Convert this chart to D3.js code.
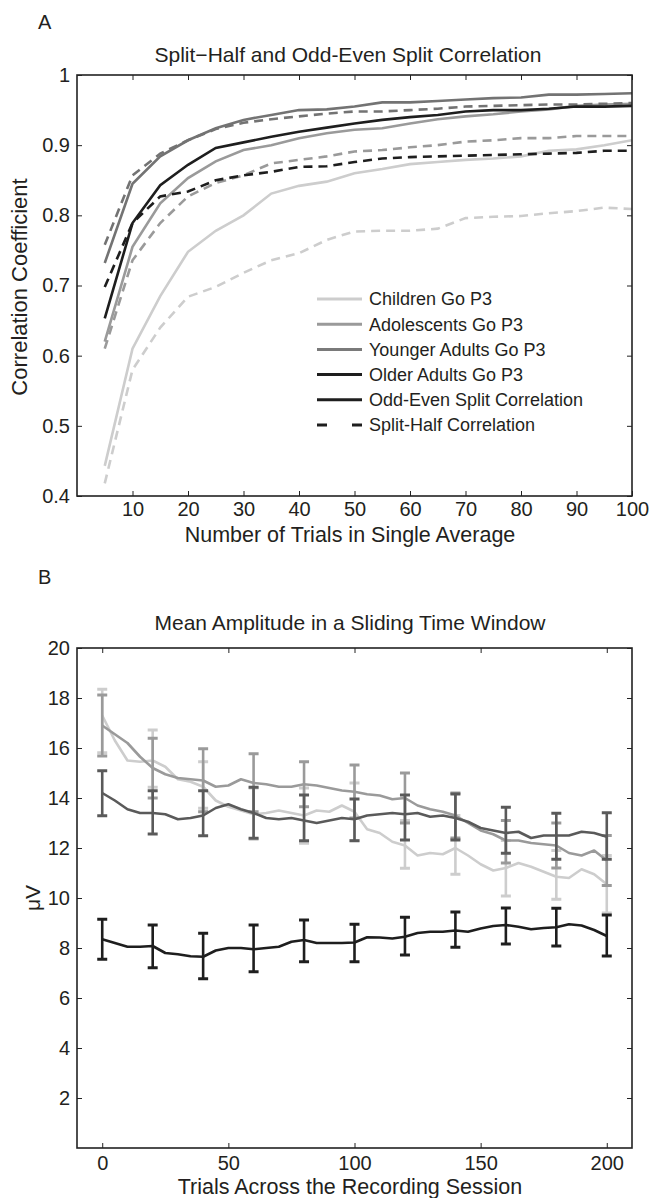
<!DOCTYPE html>
<html>

<head>
  <meta http-equiv="Content-Type" content="text/html;charset=utf-8" />
  <style type="text/css">
    body { margin: 0; background: #fff; }
    text { font-family: "Liberation Sans", Arial, sans-serif; fill: #231f20; }
  </style>
</head>

<body>
  <div id="svgContainer"></div>
  <script src="https://cdnjs.cloudflare.com/ajax/libs/d3/7.8.5/d3.min.js"></script>

  <script type="text/javascript">
    // ---- panel A data: correlation vs number of trials ----
    var trialsA = [5, 10, 15, 20, 25, 30, 35, 40, 45, 50, 55, 60, 65, 70, 75, 80, 85, 90, 95, 100];

    var childrenOddEven = [0.443, 0.61, 0.685, 0.748, 0.778, 0.80, 0.831, 0.842, 0.848, 0.860, 0.866, 0.873, 0.876, 0.879, 0.881, 0.884, 0.892, 0.894, 0.900, 0.907];
    var childrenSplitHalf = [0.418, 0.58, 0.64, 0.684, 0.698, 0.718, 0.736, 0.746, 0.765, 0.777, 0.778, 0.778, 0.781, 0.796, 0.798, 0.799, 0.803, 0.806, 0.811, 0.809];
    var adolescentsOddEven = [0.62, 0.755, 0.817, 0.853, 0.877, 0.893, 0.900, 0.910, 0.917, 0.922, 0.924, 0.931, 0.937, 0.941, 0.944, 0.948, 0.951, 0.956, 0.958, 0.959];
    var adolescentsSplitHalf = [0.61, 0.736, 0.789, 0.827, 0.846, 0.857, 0.874, 0.879, 0.884, 0.891, 0.893, 0.897, 0.900, 0.905, 0.907, 0.910, 0.910, 0.913, 0.913, 0.913];
    var youngerOddEven = [0.732, 0.845, 0.884, 0.907, 0.924, 0.936, 0.943, 0.950, 0.951, 0.955, 0.961, 0.961, 0.963, 0.965, 0.967, 0.968, 0.972, 0.972, 0.973, 0.974];
    var youngerSplitHalf = [0.758, 0.857, 0.888, 0.907, 0.923, 0.932, 0.937, 0.941, 0.945, 0.948, 0.948, 0.950, 0.952, 0.955, 0.956, 0.957, 0.958, 0.958, 0.959, 0.960];
    var olderOddEven = [0.653, 0.789, 0.843, 0.872, 0.896, 0.904, 0.912, 0.919, 0.925, 0.931, 0.936, 0.940, 0.943, 0.948, 0.950, 0.950, 0.952, 0.955, 0.955, 0.956];
    var olderSplitHalf = [0.698, 0.789, 0.827, 0.834, 0.850, 0.857, 0.862, 0.869, 0.870, 0.876, 0.881, 0.883, 0.884, 0.885, 0.886, 0.887, 0.888, 0.889, 0.892, 0.892];

    var xTicksA = [10, 20, 30, 40, 50, 60, 70, 80, 90, 100];
    var yTicksA = [0.4, 0.5, 0.6, 0.7, 0.8, 0.9, 1];

    var legendLabels = ["Children Go P3", "Adolescents Go P3", "Younger Adults Go P3", "Older Adults Go P3", "Odd-Even Split Correlation", "Split-Half Correlation"];

    // ---- panel B data: sliding window mean amplitude ----
    var trialsB = [0, 5, 10, 15, 20, 25, 30, 35, 40, 45, 50, 55, 60, 65, 70, 75, 80, 85, 90, 95, 100,
      105, 110, 115, 120, 125, 130, 135, 140, 145, 150, 155, 160, 165, 170, 175, 180, 185, 190, 195, 200];

    var childrenAmp = [17.3, 16.3, 15.5, 15.45, 15.5, 15.25, 14.75, 14.65, 14.45, 13.9, 13.65, 13.5, 13.35, 13.4, 13.5, 13.4, 13.3, 13.5, 13.45, 13.7, 13.45,
      12.75, 12.6, 12.25, 12.1, 11.7, 11.8, 11.75, 12.0, 11.7, 11.35, 11.1, 11.2, 11.4, 11.25, 11.05, 10.85, 10.8, 11.15, 10.95, 10.55];
    var adolescentsAmp = [16.9, 16.55, 16.2, 15.65, 15.2, 14.95, 14.8, 14.75, 14.7, 14.45, 14.5, 14.75, 14.6, 14.55, 14.45, 14.45, 14.55, 14.5, 14.4, 14.3, 14.25,
      14.15, 14.1, 13.95, 14.0, 13.7, 13.55, 13.45, 13.3, 13.0, 12.7, 12.55, 12.3, 12.3, 12.2, 12.15, 12.1, 11.8, 11.7, 11.9, 11.5];
    var youngerAmp = [14.2, 13.9, 13.55, 13.4, 13.4, 13.35, 13.15, 13.2, 13.3, 13.6, 13.75, 13.55, 13.4, 13.2, 13.15, 13.2, 13.1, 13.0, 13.1, 13.2, 13.15,
      13.3, 13.35, 13.4, 13.35, 13.4, 13.25, 13.3, 13.2, 13.05, 12.8, 12.7, 12.6, 12.65, 12.4, 12.5, 12.5, 12.5, 12.65, 12.6, 12.45];
    var olderAmp = [8.35, 8.2, 8.05, 8.05, 8.08, 7.8, 7.75, 7.67, 7.65, 7.9, 8.0, 8.0, 7.95, 8.0, 8.05, 8.25, 8.32, 8.2, 8.2, 8.2, 8.22,
      8.43, 8.42, 8.38, 8.45, 8.6, 8.65, 8.65, 8.7, 8.65, 8.78, 8.88, 8.92, 8.85, 8.75, 8.8, 8.83, 8.95, 8.9, 8.72, 8.48];

    var errTrials = [0, 20, 40, 60, 80, 100, 120, 140, 160, 180, 200];
    var childrenHi = [18.35, 16.72, 15.45, 14.4, 14.4, 14.6, 13.1, 13.3, 12.3, 11.9, 11.7];
    var childrenLo = [15.81, 14.43, 13.59, 12.35, 12.19, 12.3, 11.19, 10.95, 10.08, 9.95, 9.4];
    var adolescentsHi = [18.12, 16.39, 15.97, 15.77, 15.45, 15.32, 15.0, 14.2, 13.1, 13.0, 12.5];
    var adolescentsLo = [15.68, 14.0, 13.45, 13.45, 13.65, 13.2, 13.0, 12.4, 11.4, 11.2, 10.5];
    var youngerHi = [15.09, 14.29, 14.29, 14.43, 14.12, 13.96, 14.12, 14.16, 13.63, 13.39, 13.41];
    var youngerLo = [13.29, 12.56, 12.49, 12.39, 12.29, 12.29, 12.32, 12.32, 11.79, 11.55, 11.55];
    var olderHi = [9.15, 8.92, 8.59, 8.92, 9.12, 8.95, 9.23, 9.44, 9.6, 9.59, 9.32];
    var olderLo = [7.55, 7.21, 6.77, 7.05, 7.45, 7.45, 7.72, 8.03, 8.16, 8.08, 7.68];

    var xTicksB = [0, 50, 100, 150, 200];
    var yTicksB = [2, 4, 6, 8, 10, 12, 14, 16, 18, 20];

    // ---- colours ----
    var cChild = "#cdcdcd", cAdol = "#9a9a9a", cYoungA = "#737373", cYoungB = "#5a5a5a", cOld = "#1e1e1e";

    var w = 662, h = 1198;
    var svg = d3.select("#svgContainer")
      .append("svg")
      .attr("width", w)
      .attr("height", h);

    var fontFam = '"Liberation Sans", Arial, sans-serif';

    function styleAxis(g, size) {
      g.attr("font-family", fontFam).attr("font-size", size);
      g.select(".domain").remove();
      g.selectAll(".tick line").attr("stroke", "#222");
      g.selectAll(".tick text").attr("fill", "#231f20");
    }

    function frame(x, y, xt, yt, yfmt, padX) {
      var x0 = x.range()[0], x1 = x.range()[1], y0 = y.range()[0], y1 = y.range()[1];
      svg.append("g").attr("transform", "translate(0," + y0 + ")")
        .call(d3.axisBottom(x).tickValues(xt).tickSize(-5).tickPadding(padX))
        .call(styleAxis, 20);
      svg.append("g").attr("transform", "translate(0," + y1 + ")")
        .call(d3.axisTop(x).tickValues(xt).tickSize(-5).tickFormat(""))
        .call(styleAxis, 20);
      svg.append("g").attr("transform", "translate(" + x0 + ",0)")
        .call(d3.axisLeft(y).tickValues(yt).tickSize(-5).tickPadding(7).tickFormat(yfmt))
        .call(styleAxis, 20);
      svg.append("g").attr("transform", "translate(" + x1 + ",0)")
        .call(d3.axisRight(y).tickValues(yt).tickSize(-5).tickFormat(""))
        .call(styleAxis, 20);
      svg.append("rect")
        .attr("x", x0).attr("y", y1)
        .attr("width", x1 - x0).attr("height", y0 - y1)
        .attr("fill", "none").attr("stroke", "#222").attr("stroke-width", 1.6);
    }

    // ================= Panel A =================
    var xA = d3.scaleLinear().domain([0, 100]).range([77, 632]);
    var yA = d3.scaleLinear().domain([0.4, 1]).range([496, 75]);

    var lineA = d3.line()
      .x(function (d, i) { return xA(trialsA[i]); })
      .y(function (d) { return yA(d); });

    var seriesA = [
      [childrenOddEven, cChild, null],
      [childrenSplitHalf, cChild, "9,6"],
      [adolescentsOddEven, cAdol, null],
      [adolescentsSplitHalf, cAdol, "9,6"],
      [olderSplitHalf, cOld, "9,6"],
      [youngerOddEven, cYoungA, null],
      [youngerSplitHalf, cYoungA, "9,6"],
      [olderOddEven, cOld, null]
    ];

    svg.append("clipPath").attr("id", "clipA").append("rect")
      .attr("x", 77).attr("y", 75).attr("width", 555).attr("height", 421);

    var gA = svg.append("g").attr("clip-path", "url(#clipA)");
    seriesA.forEach(function (s) {
      gA.append("path")
        .attr("d", lineA(s[0]))
        .attr("fill", "none")
        .attr("stroke", s[1])
        .attr("stroke-width", 2.6)
        .attr("stroke-dasharray", s[2]);
    });

    frame(xA, yA, xTicksA, yTicksA, function (d) { return d === 1 ? "1" : d3.format(".1f")(d); }, 6);

    // legend
    var legColors = [cChild, cAdol, "#7a7a7a", cOld, cOld, cOld];
    var legY = d3.scaleLinear().domain([0, 5]).range([299, 425]);
    var leg = svg.append("g");
    legendLabels.forEach(function (t, i) {
      leg.append("line")
        .attr("x1", 317).attr("x2", 362)
        .attr("y1", legY(i)).attr("y2", legY(i))
        .attr("stroke", legColors[i])
        .attr("stroke-width", 3)
        .attr("stroke-dasharray", i === 5 ? "10,25" : null);
      leg.append("text")
        .attr("x", 369).attr("y", legY(i))
        .attr("dy", "0.35em")
        .attr("font-size", 18)
        .text(t);
    });

    svg.append("text").attr("x", 38).attr("y", 29).attr("font-size", 20).text("A");
    svg.append("text").attr("x", 348).attr("y", 62).attr("font-size", 21)
      .attr("text-anchor", "middle").text("Split\u2212Half and Odd-Even Split Correlation");
    svg.append("text").attr("x", 350).attr("y", 542).attr("font-size", 21.5)
      .attr("text-anchor", "middle").text("Number of Trials in Single Average");
    svg.append("text").attr("transform", "translate(27,287) rotate(-90)")
      .attr("font-size", 22).attr("text-anchor", "middle").text("Correlation Coefficient");

    // ================= Panel B =================
    var xB = d3.scaleLinear().domain([-10, 210]).range([77, 632]);
    var yB = d3.scaleLinear().domain([0, 20]).range([1148, 648]);

    var lineB = d3.line()
      .x(function (d, i) { return xB(trialsB[i]); })
      .y(function (d) { return yB(d); });

    var seriesB = [
      [childrenAmp, childrenHi, childrenLo, cChild],
      [adolescentsAmp, adolescentsHi, adolescentsLo, cAdol],
      [youngerAmp, youngerHi, youngerLo, cYoungB],
      [olderAmp, olderHi, olderLo, cOld]
    ];

    seriesB.forEach(function (s) {
      var g = svg.append("g");
      g.append("path")
        .attr("d", lineB(s[0]))
        .attr("fill", "none")
        .attr("stroke", s[3])
        .attr("stroke-width", 2.6)
        .attr("stroke-linejoin", "round");
      var eb = g.selectAll(".eb").data(errTrials).enter().append("g");
      eb.append("line")
        .attr("x1", function (d) { return xB(d); })
        .attr("x2", function (d) { return xB(d); })
        .attr("y1", function (d, i) { return yB(s[1][i]); })
        .attr("y2", function (d, i) { return yB(s[2][i]); })
        .attr("stroke", s[3]).attr("stroke-width", 2.6);
      [1, 2].forEach(function (k) {
        eb.append("line")
          .attr("x1", function (d) { return xB(d) - 5; })
          .attr("x2", function (d) { return xB(d) + 5; })
          .attr("y1", function (d, i) { return yB(s[k][i]); })
          .attr("y2", function (d, i) { return yB(s[k][i]); })
          .attr("stroke", s[3]).attr("stroke-width", 3);
      });
    });

    frame(xB, yB, xTicksB, yTicksB, d3.format("d"), 8);

    svg.append("text").attr("x", 38).attr("y", 584).attr("font-size", 20).text("B");
    svg.append("text").attr("x", 350).attr("y", 630).attr("font-size", 21)
      .attr("text-anchor", "middle").text("Mean Amplitude in a Sliding Time Window");
    svg.append("text").attr("x", 350).attr("y", 1194).attr("font-size", 21.5)
      .attr("text-anchor", "middle").text("Trials Across the Recording Session");
    svg.append("text").attr("transform", "translate(40,898) rotate(-90)")
      .attr("font-size", 21).attr("text-anchor", "middle").text("\u03bcV");
  </script>
</body>

</html>
